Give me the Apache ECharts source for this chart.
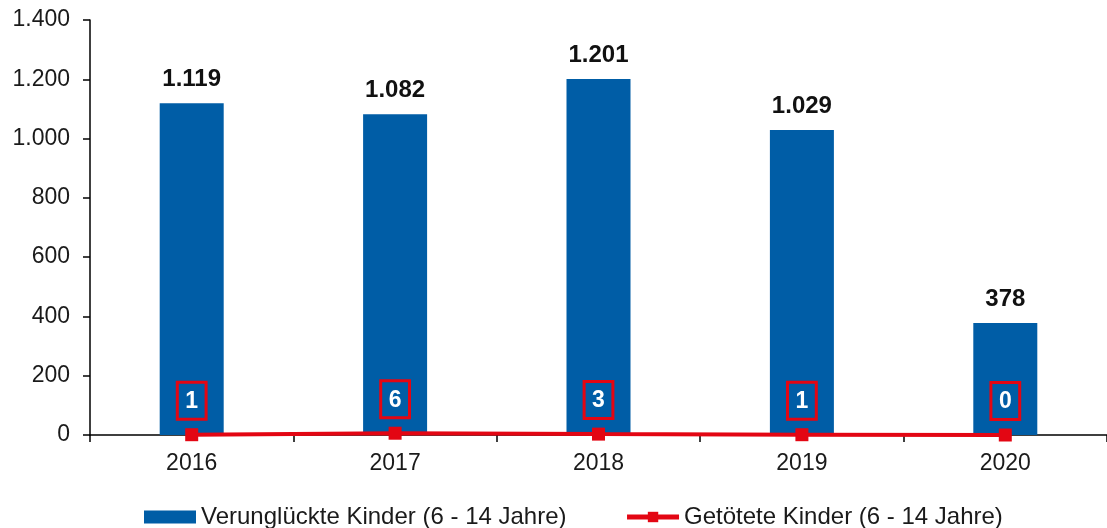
<!DOCTYPE html>
<html>
<head>
<meta charset="utf-8">
<script src="https://cdn.jsdelivr.net/npm/echarts@6/dist/echarts.min.js"></script>
<style>
    html, body { margin: 0; padding: 0; background: #fff; }
    #chart { width: 1107px; height: 528px; }
</style>
</head>
<body>
<div id="chart"></div>
<script>
// 数据
var years = ['2016', '2017', '2018', '2019', '2020'];
var verunglueckt = [1119, 1082, 1201, 1029, 378];
var getoetet = [1, 6, 3, 1, 0];
var yTicks = [0, 200, 400, 600, 800, 1000, 1200, 1400];

// 千位分隔符 (德语格式)
function fmt(v) {
    return String(v).replace(/\B(?=(\d{3})+(?!\d))/g, '.');
}

(function () {
    var myChart = echarts.init(document.getElementById('chart'));
    var option = {
        animation: false,
        textStyle: { fontFamily: 'Liberation Sans, Arial, sans-serif' },
        grid: {
            left: 90,
            top: 20,
            width: 1022,
            height: 415
        },
        legend: {
            top: 500,
            left: 139,
            itemGap: 58,
            itemWidth: 52,
            itemHeight: 13,
            textStyle: { fontSize: 24, color: '#1a1a1a' },
            data: [
                { name: 'Verunglückte Kinder (6 - 14 Jahre)', icon: 'rect' },
                { name: 'Getötete Kinder (6 - 14 Jahre)', lineStyle: { width: 5 } }
            ]
        },
        xAxis: {
            type: 'category',
            data: years,
            axisLine: { lineStyle: { color: '#000', width: 1.5 } },
            axisTick: { show: true, length: 7, lineStyle: { color: '#000', width: 1.5 } },
            axisLabel: { color: '#1a1a1a', fontSize: 23, margin: 17 }
        },
        yAxis: {
            type: 'value',
            min: yTicks[0],
            max: yTicks[yTicks.length - 1],
            interval: 200,
            splitLine: { show: false },
            axisLine: { show: true, lineStyle: { color: '#000', width: 1.5 } },
            axisTick: { show: true, length: 7, lineStyle: { color: '#000', width: 1.5 } },
            axisLabel: {
                color: '#1a1a1a',
                fontSize: 23,
                margin: 20,
                formatter: function (v) { return fmt(v); }
            }
        },
        series: [
            {
                name: 'Verunglückte Kinder (6 - 14 Jahre)',
                type: 'bar',
                data: verunglueckt,
                barWidth: 64,
                itemStyle: { color: '#005DA6' },
                label: {
                    show: true,
                    position: 'top',
                    distance: 12,
                    color: '#111',
                    fontSize: 24,
                    fontWeight: 'bold',
                    formatter: function (p) { return fmt(p.value); }
                }
            },
            {
                name: 'Getötete Kinder (6 - 14 Jahre)',
                type: 'line',
                data: getoetet,
                symbol: 'rect',
                symbolSize: 13,
                z: 5,
                lineStyle: { color: '#E30613', width: 4 },
                itemStyle: { color: '#E30613' },
                label: {
                    show: true,
                    position: 'top',
                    distance: 9,
                    color: '#fff',
                    fontSize: 23,
                    fontWeight: 'bold',
                    borderColor: '#E30613',
                    borderWidth: 3,
                    padding: [8, 8, 6, 8]
                }
            }
        ]
    };
    myChart.setOption(option);
    window.addEventListener('resize', function () {
        myChart.resize();
    });
})();
</script>
</body>
</html>
